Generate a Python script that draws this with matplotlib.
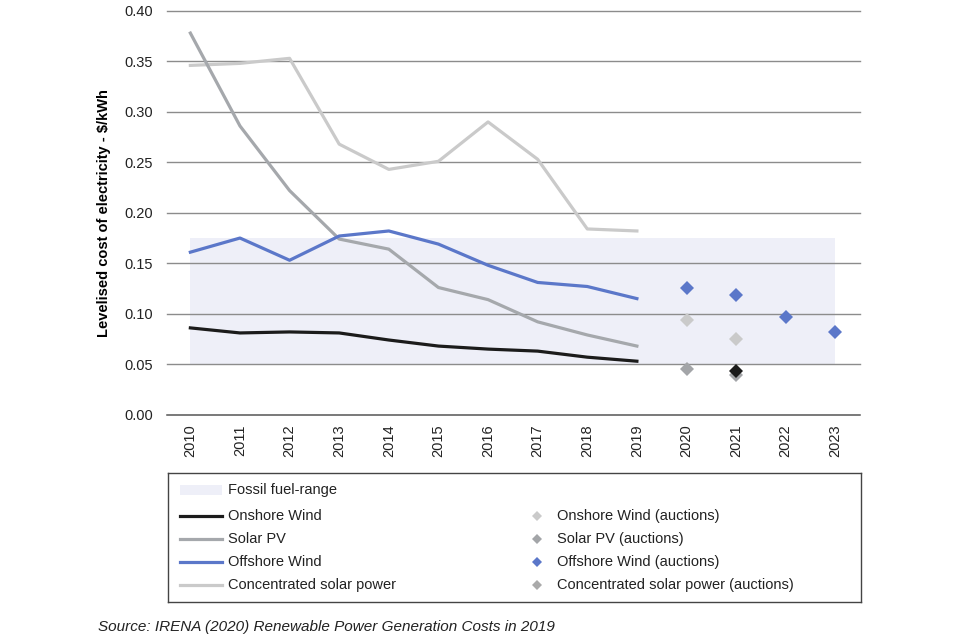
import numpy as np
import matplotlib
matplotlib.use("Agg")
import matplotlib.pyplot as plt
from matplotlib.lines import Line2D
from matplotlib.patches import Rectangle

plt.rcParams['font.family'] = ['Liberation Sans', 'DejaVu Sans']

years = ["2010", "2011", "2012", "2013", "2014", "2015", "2016", "2017", "2018", "2019",
         "2020", "2021", "2022", "2023"]
hist_years = years[:10]
onshore_wind = [0.086, 0.081, 0.082, 0.081, 0.074, 0.068, 0.065, 0.063, 0.057, 0.053]
solar_pv = [0.378, 0.286, 0.222, 0.174, 0.164, 0.126, 0.114, 0.092, 0.079, 0.068]
offshore_wind = [0.161, 0.175, 0.153, 0.177, 0.182, 0.169, 0.148, 0.131, 0.127, 0.115]
csp = [0.346, 0.348, 0.353, 0.268, 0.243, 0.251, 0.290, 0.253, 0.184, 0.182]

auc_years_offshore = ["2020", "2021", "2022", "2023"]
offshore_auctions = [0.126, 0.119, 0.097, 0.082]
auc_years_2 = ["2020", "2021"]
csp_auctions = [0.094, 0.075]
solar_auctions = [0.045, 0.039]
onshore_auctions_year = ["2021"]
onshore_auctions = [0.043]

fossil_low, fossil_high = 0.05, 0.175

c_onshore = "#1b1b1b"
c_solar = "#a5a8ac"
c_offshore = "#5b77c9"
c_csp = "#cacaca"
c_fossil = "#eeeff8"

fig = plt.figure(figsize=(9.6, 6.4), dpi=100)
ax = fig.add_axes([0.174, 0.352, 0.722, 0.631])

xi = {y: i for i, y in enumerate(years)}
hx = [xi[y] for y in hist_years]

ax.fill_between([0, len(years) - 1], fossil_low, fossil_high, color=c_fossil, zorder=0, lw=0)
for v in np.arange(0.05, 0.41, 0.05):
    ax.axhline(v, color="#8c8c8c", lw=1.0, zorder=1, clip_on=False)
ax.axhline(0, color="#555555", lw=1.1, zorder=1, clip_on=False)

ax.plot(hx, csp, color=c_csp, lw=2.3, zorder=3, solid_joinstyle='round')
ax.plot(hx, solar_pv, color=c_solar, lw=2.3, zorder=3, solid_joinstyle='round')
ax.plot(hx, offshore_wind, color=c_offshore, lw=2.3, zorder=4, solid_joinstyle='round')
ax.plot(hx, onshore_wind, color=c_onshore, lw=2.3, zorder=4, solid_joinstyle='round')

ms = 7
ax.plot([xi[y] for y in auc_years_offshore], offshore_auctions, 'D', color=c_offshore, ms=ms, mew=0, zorder=5)
ax.plot([xi[y] for y in auc_years_2], csp_auctions, 'D', color=c_csp, ms=ms, mew=0, zorder=5)
ax.plot([xi[y] for y in auc_years_2], solar_auctions, 'D', color="#a3a5a8", ms=ms, mew=0, zorder=5)
ax.plot([xi[y] for y in onshore_auctions_year], onshore_auctions, 'D', color=c_onshore, ms=ms, mew=0, zorder=6)

ax.set_xlim(-0.47, 13.5)
ax.set_ylim(0, 0.40)
ax.set_yticks(np.arange(0, 0.41, 0.05))
ax.set_yticklabels([f"{v:.2f}" for v in np.arange(0, 0.41, 0.05)], fontsize=10.5, color="#222222")
ax.set_xticks(range(len(years)))
ax.set_xticklabels(years, rotation=90, fontsize=10.5, color="#222222")
ax.tick_params(axis='both', length=0)
ax.tick_params(axis='y', pad=10)
ax.tick_params(axis='x', pad=7)
for s in ax.spines.values():
    s.set_visible(False)
ax.set_ylabel("Levelised cost of electricity - $/kWh", fontsize=10.5, fontweight='bold', labelpad=10)

# legend box
lax = fig.add_axes([0.175, 0.059, 0.722, 0.2016])
lax.set_xlim(0, 693)
lax.set_ylim(129, 0)
lax.set_xticks([])
lax.set_yticks([])
for s in lax.spines.values():
    s.set_color("#444444")
    s.set_linewidth(1.0)

rows = [17, 43, 66, 89, 112]
lax.add_patch(Rectangle((12, rows[0] - 5), 42, 10, color=c_fossil, lw=0))
lax.text(60, rows[0], "Fossil fuel-range", va='center', fontsize=10.5, color="#222222")
left_items = [("Onshore Wind", c_onshore), ("Solar PV", c_solar),
              ("Offshore Wind", c_offshore), ("Concentrated solar power", c_csp)]
for (lab, col), r in zip(left_items, rows[1:]):
    lax.add_line(Line2D([12, 54], [r, r], color=col, lw=2.3))
    lax.text(60, r, lab, va='center', fontsize=10.5, color="#222222")
right_items = [("Onshore Wind (auctions)", "#cacaca"), ("Solar PV (auctions)", "#a3a5a8"),
               ("Offshore Wind (auctions)", c_offshore), ("Concentrated solar power (auctions)", "#aaaaaa")]
for (lab, col), r in zip(right_items, rows[1:]):
    lax.plot([369], [r], 'D', color=col, ms=5, mew=0)
    lax.text(389, r, lab, va='center', fontsize=10.5, color="#222222")

fig.text(0.102, 1 - 627 / 640, "Source: IRENA (2020) Renewable Power Generation Costs in 2019",
         fontsize=11, style='italic', va='center', color="#222222")

fig.savefig("out.png", dpi=100)
